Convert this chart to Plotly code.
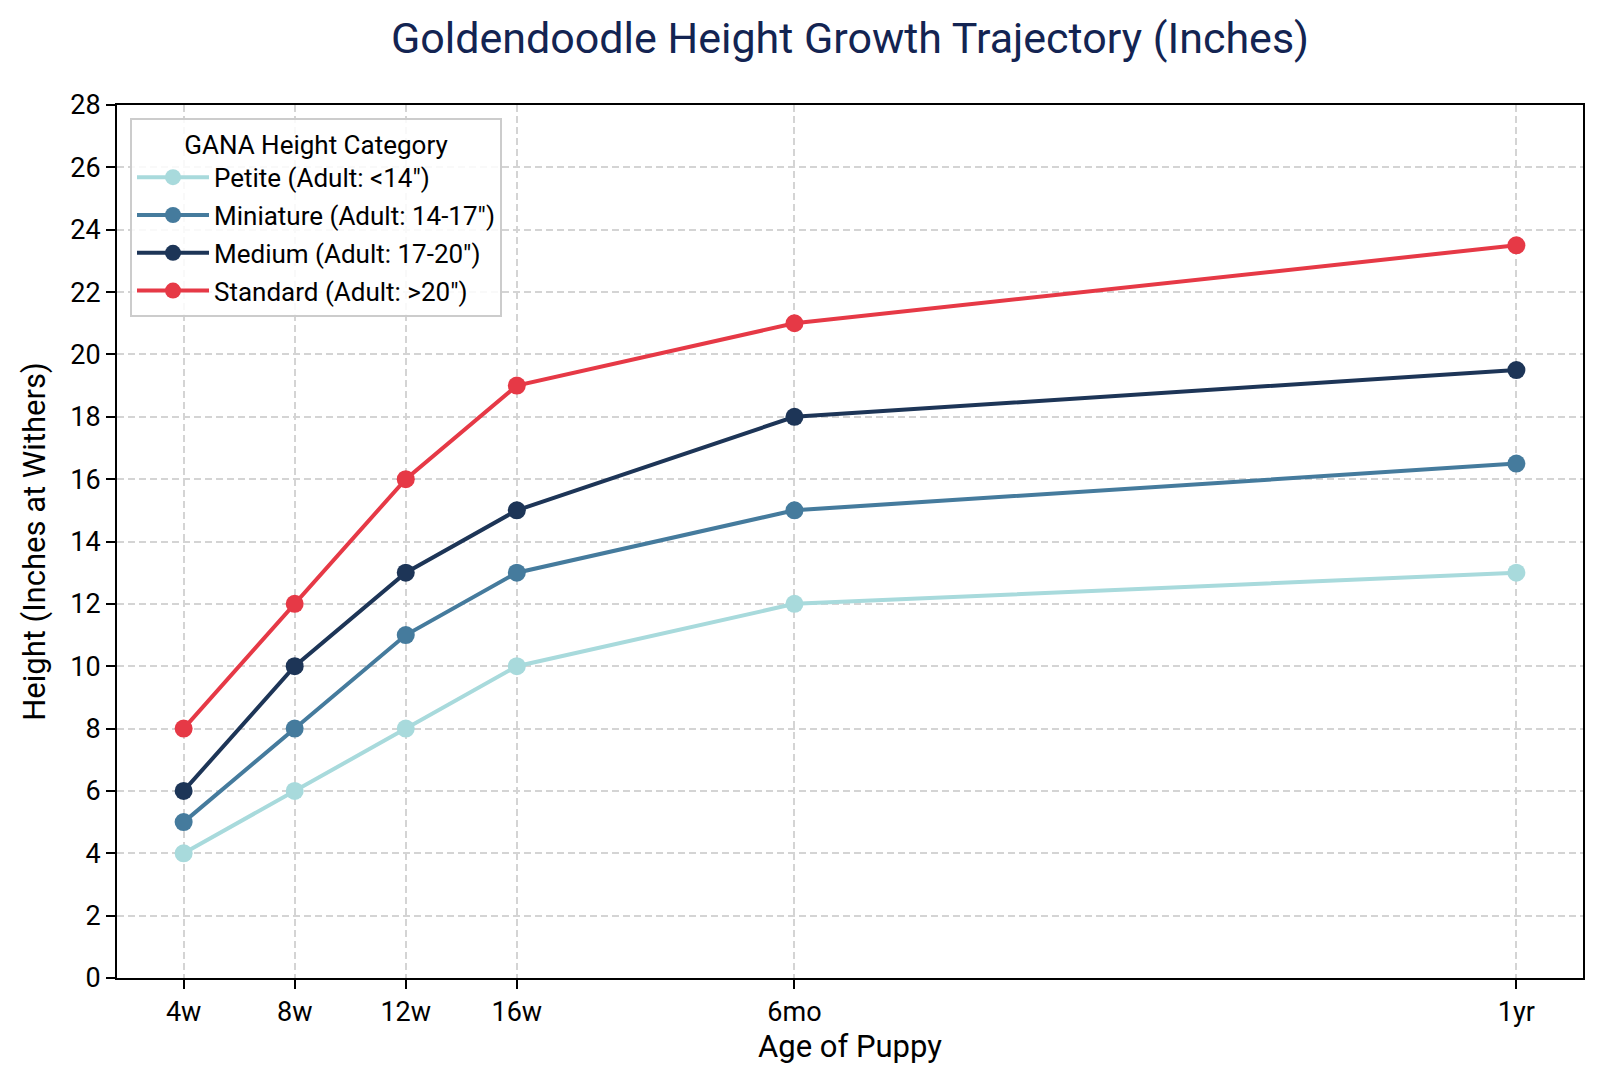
import plotly.graph_objects as go

ages = ["4w", "8w", "12w", "16w", "6mo", "1yr"]
age_weeks = [4, 8, 12, 16, 26, 52]

petite = [4, 6, 8, 10, 12, 13]
miniature = [5, 8, 11, 13, 15, 16.5]
medium = [6, 10, 13, 15, 18, 19.5]
standard = [8, 12, 16, 19, 21, 23.5]

series_names = ['Petite (Adult: <14")', 'Miniature (Adult: 14-17")',
                'Medium (Adult: 17-20")', 'Standard (Adult: >20")']
series_values = [petite, miniature, medium, standard]
colors = ["#a8dadc", "#457b9d", "#1d3557", "#e63946"]

y_ticks = list(range(0, 29, 2))

FONT = "Roboto"
# page body has an 8px default margin; compensate so the plot lands where intended
SHIFT = 8

fig = go.Figure()
for i, (name, vals, c) in enumerate(zip(series_names, series_values, colors)):
    fig.add_trace(go.Scatter(
        x=age_weeks, y=vals, name=name, mode="lines+markers",
        legendgroup=f"g{i}",
        line=dict(color=c, width=4),
        marker=dict(color=c, size=18),
    ))

axis_common = dict(
    showline=True, linecolor="black", linewidth=2, mirror=True,
    ticks="outside", ticklen=9, tickcolor="black", tickwidth=2,
    showgrid=True, gridcolor="#d4d4d4", griddash="7px,4px", gridwidth=1.5,
    zeroline=False, automargin=False,
    tickfont=dict(family=FONT, size=27, color="black"),
)

fig.update_layout(
    width=1600, height=1084,
    paper_bgcolor="white", plot_bgcolor="white",
    margin=dict(l=117 - SHIFT, r=17 + SHIFT, t=105 - SHIFT, b=106 + SHIFT),
    font=dict(family=FONT, color="black"),
    title=dict(text="Goldendoodle Height Growth Trajectory (Inches)",
               x=0.5, xref="paper", xanchor="center",
               y=1 - (38 - SHIFT) / 1084, yanchor="middle",
               font=dict(family=FONT, size=43, color="#132452")),
    xaxis=dict(range=[1.6, 54.4], tickmode="array", tickvals=age_weeks,
               ticktext=ages,
               title=dict(text="Age of Puppy", font=dict(family=FONT, size=31), standoff=6),
               **axis_common),
    yaxis=dict(range=[0, 28], tickmode="array", tickvals=y_ticks,
               title=dict(text="Height (Inches at Withers)", font=dict(family=FONT, size=31), standoff=15),
               **axis_common),
    legend=dict(
        title=dict(text="GANA Height Category", side="top center",
                   font=dict(family=FONT, size=26)),
        x=13 / 1466, y=1 - 13 / 873, xanchor="left", yanchor="top",
        bgcolor="rgba(255,255,255,0.85)", bordercolor="#cccccc", borderwidth=2,
        font=dict(family=FONT, size=26),
        itemwidth=72, tracegroupgap=1,
    ),
)

fig.write_html("out.html")
